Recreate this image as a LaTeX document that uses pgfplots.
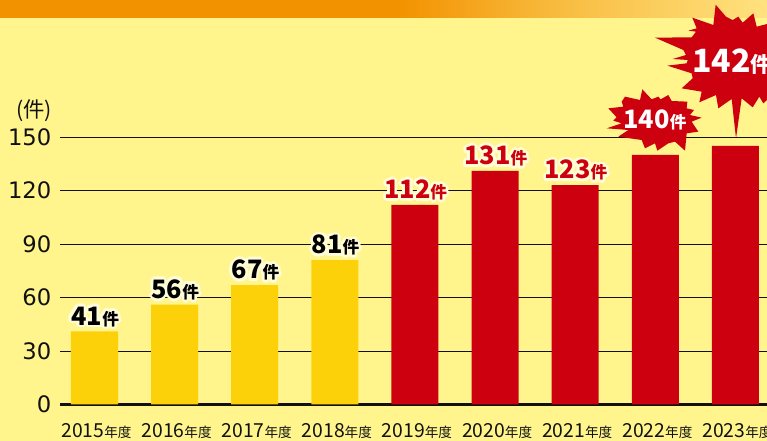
\documentclass[border=0pt]{standalone}
\usepackage{fontspec}
\setmainfont{Noto Sans CJK JP}
\newfontfamily\tickfont{DejaVu Sans}
\usepackage{pgfplots}
\pgfplotsset{compat=1.18}
\definecolor{Bg}{HTML}{FFF58C}
\definecolor{Gold}{HTML}{FDD10A}
\definecolor{Red}{HTML}{CC000F}
\definecolor{Pale}{HTML}{FFFCD8}
\definecolor{Orange}{HTML}{F39200}
\definecolor{OrangeB}{HTML}{F8BC40}
\definecolor{OrangeC}{HTML}{FFE27F}
\definecolor{Ink}{HTML}{111111}
\pgfdeclarehorizontalshading{band}{100bp}{color(0bp)=(Orange); color(51bp)=(Orange); color(61.5bp)=(OrangeB); color(75bp)=(OrangeC); color(100bp)=(OrangeC)}

\newcommand{\cnt}[3]{{\bfseries\fontsize{#1}{#1}\selectfont #3\fontsize{#2}{#1}\selectfont 件}}
\newcommand{\haloring}[2]{\foreach \a in {0,30,...,330}{%
  \pgfmathsetlengthmacro\hx{#1*cos(\a)}\pgfmathsetlengthmacro\hy{#1*sin(\a)}%
  \rlap{\hspace{\hx}\raisebox{\hy}{\color{Pale}\cnt{19}{12.5}{#2}}}}}
\newcommand{\halo}[2]{\haloring{2.1pt}{#2}\haloring{1.1pt}{#2}{\color{#1}\cnt{19}{12.5}{#2}}}
\newcommand{\yr}[1]{{\fontsize{14.5}{14.5}\selectfont #1\fontsize{10.2}{14.5}\selectfont 年度}}

\begin{document}
\begin{tikzpicture}
  % page is 767x441 px at 0.75pt, axis origin sits at px (60,404.5)
  \path[use as bounding box] (-45pt,-27.375pt) rectangle (530.25pt,303.375pt);
  \begin{scope}[overlay]
  \clip (-45pt,-27.375pt) rectangle (530.25pt,303.375pt);
  \fill[Bg] (-45pt,-27.375pt) rectangle (530.25pt,303.375pt);
  \shade[shading=band] (-45pt,290.2pt) rectangle (530.25pt,303.375pt);

  \begin{axis}[
    at={(0pt,0pt)},anchor=south west,
    scale only axis,
    width=530.25pt,height=200.6pt,
    xmin=-0.4306,xmax=8.3934,
    ymin=0,ymax=150,
    clip=false,
    ybar,bar width=35.25pt,bar shift=0pt,
    axis x line*=bottom,axis y line*=left,
    x axis line style={-,Ink,line width=1.6pt},
    y axis line style={draw=none},
    xtick={0,...,8},
    xticklabels={\yr{2015},\yr{2016},\yr{2017},\yr{2018},\yr{2019},\yr{2020},\yr{2021},\yr{2022},\yr{2023}},
    ytick={0,30,60,90,120,150},
    major tick length=0pt,
    ymajorgrids=true,
    grid style={Ink,line width=0.7pt},
    /pgf/number format/assume math mode=true,
    yticklabel style={font=\tickfont\fontsize{17}{17}\selectfont,text=Ink,xshift=-3pt},
    xticklabel style={text=Ink,yshift=-11pt,xshift=1.5pt},
    point meta=explicit symbolic,
    nodes near coords,
    every node near coord/.append style={anchor=south,inner sep=0pt,yshift=1.2pt,xshift=0.5pt},
  ]
    \addplot[fill=Gold,draw=none,
      nodes near coords={\halo{black}{\pgfplotspointmeta}}] coordinates {
      (0,41)[41] (1,56)[56] (2,67)[67] (3,81)[81]
    };
    \addplot[fill=Red,draw=none,
      nodes near coords={\halo{Red}{\pgfplotspointmeta}}] coordinates {
      (4,112)[112] (5,131)[131] (6,123)[123]
    };
    \addplot[fill=Red,draw=none,nodes near coords={}] coordinates {
      (7,140)[] (8,145)[]
    };
  \end{axis}

  \begin{scope}[shift={(-45pt,303.375pt)},x=0.75pt,y=-0.75pt]
    \node[text=Ink,font=\fontsize{16}{16}\selectfont,inner sep=0pt] at (34,111) {(件)};
    \begin{scope}[shift={(560,0)},x=0.25pt,y=-0.25pt]
      % big burst
      \fill[Red] (467,14)--(498,50)--(518,60)--(535,50)--(548,68)--(580,40)--(590,80)--(621,72)--(660,90)
        --(660,300)--(621,300)--(610,310)--(598,290)--(578,322)--(545,295)--(528,415)--(515,297)
        --(475,325)--(468,285)--(418,307)--(425,275)--(365,265)--(398,235)--(395,220)--(322,197)
        --(380,190)--(383,180)--(338,177)--(378,165)--(370,150)--(285,113)--(395,112)--(408,95)
        --(385,92)--(410,85)--(397,53)--(460,75)--cycle;
      % small burst
      \fill[Red] (247,268)--(275,298)--(295,290)--(302,298)--(325,285)--(335,303)--(382,305)--(380,325)
        --(402,330)--(390,345)--(425,353)--(395,365)--(415,395)--(380,400)--(375,452)--(345,425)
        --(325,430)--(292,452)--(285,430)--(255,445)--(245,420)--(175,410)--(205,390)--(140,385)
        --(185,370)--(160,362)--(170,352)--(145,325)--(190,320)--(185,305)--(195,290)--(240,300)--cycle;
    \end{scope}
    \node[text=white,inner sep=0pt] at (655,120) {\cnt{19}{12.5}{140}};
    \node[text=white,inner sep=0pt] at (732,62) {\cnt{24}{16}{142}};
  \end{scope}
  \end{scope}
\end{tikzpicture}
\end{document}
